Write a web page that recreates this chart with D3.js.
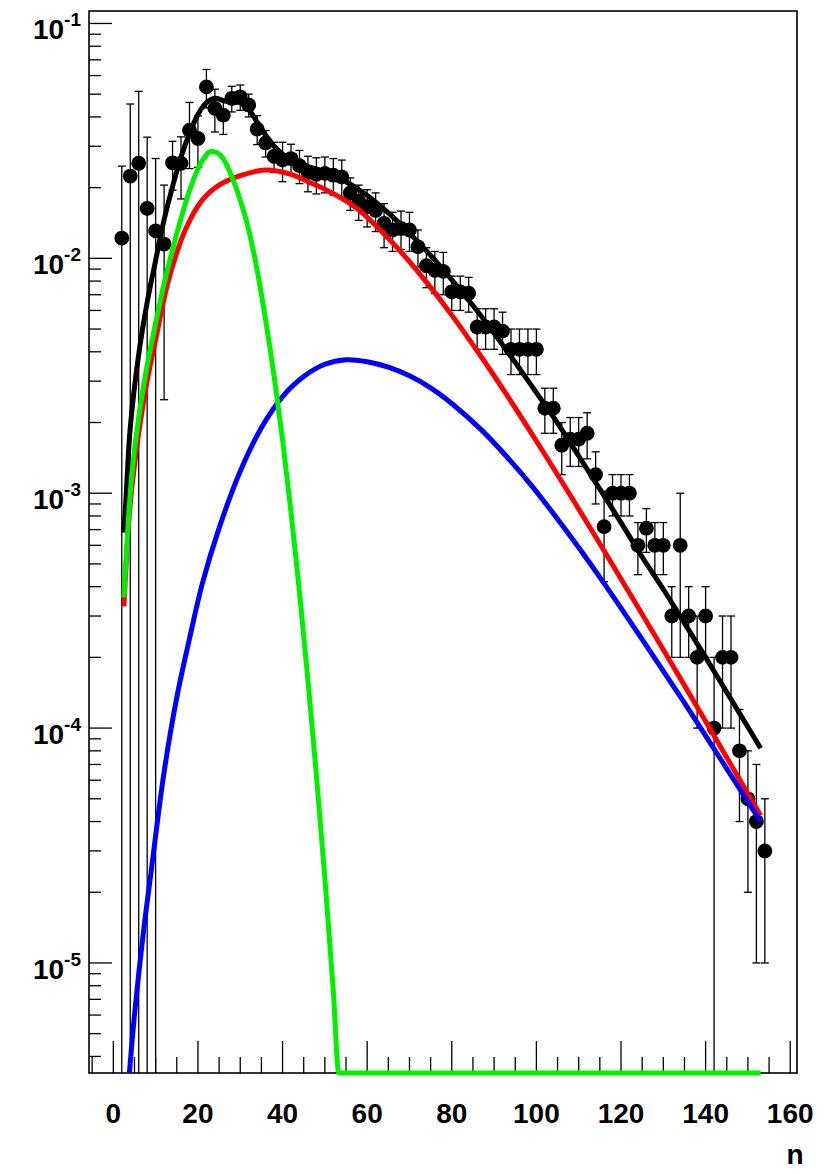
<!DOCTYPE html>
<html>
<head>
<meta charset="utf-8">
<script src="https://cdn.jsdelivr.net/npm/d3@7"></script>
<style>
  body { margin: 0; background: #fff; }
  text { font-family: "Liberation Sans", Arial, sans-serif; font-weight: bold; }
</style>
</head>
<body>
<div id="chart"></div>
<script>
// Data points (even n bins), value and symmetric error
const pointN = d3.range(2, 155, 2);
const pointValue = [
  0.0122, 0.0224, 0.0254, 0.0163, 0.0131, 0.0115, 0.0255, 0.0254, 0.0351, 0.0324,
  0.0537, 0.0435, 0.0407, 0.0480, 0.0487, 0.0450, 0.0355, 0.0310, 0.0272, 0.0262,
  0.0266, 0.0248, 0.0232, 0.0228, 0.0230, 0.0226, 0.0222, 0.0190, 0.0175, 0.0166,
  0.0160, 0.0141, 0.0132, 0.0134, 0.0132, 0.0112, 0.0093, 0.0089, 0.0088, 0.0072,
  0.0072, 0.0071, 0.0051, 0.0051, 0.0051, 0.0049, 0.0041, 0.0041, 0.0041, 0.0041,
  0.0023, 0.0023, 0.0016, 0.0017, 0.0017, 0.0018, 0.0012, 0.00072, 0.0010, 0.0010,
  0.0010, 0.0006, 0.00071, 0.0006, 0.0006, 0.0003, 0.0006, 0.0003, 0.0002, 0.0003,
  0.0001, 0.0002, 0.0002, 0.00008, 0.00005, 0.00004, 0.00003
];
const pointError = [
  0.0125, 0.023, 0.026, 0.0165, 0.0135, 0.009, 0.006, 0.0075, 0.011, 0.008,
  0.010, 0.009, 0.007, 0.006, 0.006, 0.005, 0.005, 0.004, 0.004, 0.005,
  0.004, 0.004, 0.004, 0.004, 0.004, 0.004, 0.004, 0.003, 0.003, 0.003,
  0.003, 0.003, 0.0025, 0.0025, 0.0025, 0.002, 0.0018, 0.0018, 0.0018, 0.0012,
  0.0012, 0.0012, 0.001, 0.001, 0.001, 0.001, 0.0009, 0.0009, 0.0009, 0.0009,
  0.0005, 0.0005, 0.0004, 0.0004, 0.0004, 0.0004, 0.0003, 0.0003, 0.0002, 0.0002,
  0.0002, 0.00015, 0.00015, 0.00015, 0.00015, 0.0001, 0.0004, 0.0001, 0.0001, 0.0001,
  0.0001, 0.0001, 0.0001, 0.00004, 0.00003, 0.00003, 0.00002
];

// Fit curves: total (black), red, blue, green components
const totalN = [2.5, 3, 4, 6, 8, 10, 12, 14, 16, 18, 20, 22, 24, 26, 28, 30, 32, 34, 36, 38, 40, 45, 50, 55, 60, 65, 70, 75, 80, 85, 90, 95, 100, 105, 110, 115, 120, 125, 130, 135, 140, 145, 150, 153];
const totalValue = [6.8e-4, 9.5e-4, 1.9e-3, 3.9e-3, 6.5e-3, 9.8e-3, 0.0146, 0.0202, 0.027, 0.034, 0.041, 0.046, 0.048, 0.047, 0.046, 0.046, 0.043, 0.038, 0.0335, 0.030, 0.0278, 0.025, 0.0233, 0.0212, 0.0185, 0.0156, 0.0128, 0.0103, 0.0081, 0.0063, 0.0048, 0.0036, 0.00268, 0.00199, 0.00144, 0.00104, 7.5e-4, 5.35e-4, 3.9e-4, 2.8e-4, 2.0e-4, 1.42e-4, 1.01e-4, 8.2e-5];

const redN = [2.5, 4, 6, 8, 10, 13, 17, 21, 25, 30, 36, 42, 46, 50, 54, 58, 62, 66, 70, 75, 80, 87, 93, 99, 104, 110, 116, 122, 128, 135, 141, 147, 153];
const redValue = [3.3e-4, 9e-4, 1.8e-3, 3.0e-3, 4.5e-3, 8.0e-3, 0.0132, 0.0177, 0.0205, 0.0225, 0.0238, 0.0228, 0.0212, 0.0197, 0.0180, 0.0161, 0.0138, 0.01165, 0.00968, 0.00752, 0.00573, 0.0038, 0.00262, 0.00178, 0.00128, 8.57e-4, 5.69e-4, 3.76e-4, 2.48e-4, 1.52e-4, 9.95e-5, 6.5e-5, 4.24e-5];

const blueN = [3.8, 5, 7, 9, 12, 15, 18, 21, 25, 30, 35, 40, 45, 50, 55, 60, 65, 70, 75, 80, 87, 93, 99, 104, 110, 116, 122, 128, 135, 141, 147, 153];
const blueValue = [3.4e-6, 6e-6, 1.3e-5, 2.5e-5, 6.5e-5, 1.35e-4, 2.4e-4, 4.1e-4, 7.1e-4, 1.24e-3, 1.9e-3, 2.58e-3, 3.14e-3, 3.54e-3, 3.7e-3, 3.63e-3, 3.44e-3, 3.16e-3, 2.81e-3, 2.41e-3, 1.86e-3, 1.43e-3, 1.07e-3, 8.2e-4, 5.87e-4, 4.13e-4, 2.87e-4, 1.98e-4, 1.28e-4, 8.7e-5, 5.9e-5, 4.0e-5];

const greenN = [2.5, 4, 6, 8, 10, 12, 14, 16, 18, 20, 21.5, 23, 24.5, 26, 28, 30, 32, 34, 36, 38, 40, 42, 44, 46, 48, 50, 52, 53.3, 60, 80, 100, 120, 140, 153];
const greenValue = [3.6e-4, 1.0e-3, 2.1e-3, 3.5e-3, 5.3e-3, 7.8e-3, 0.0109, 0.0148, 0.0194, 0.0240, 0.0268, 0.0285, 0.0282, 0.0265, 0.0223, 0.0177, 0.0132, 0.0089, 0.00546, 0.00315, 0.00169, 8.3e-4, 3.8e-4, 1.6e-4, 6.3e-5, 2.3e-5, 7.6e-6, 3.4e-6, 3.4e-6, 3.4e-6, 3.4e-6, 3.4e-6, 3.4e-6, 3.4e-6];

const curves = [
  { n: totalN, v: totalValue, color: "#000000", curve: d3.curveCatmullRom },
  { n: redN, v: redValue, color: "#ff0000", curve: d3.curveCatmullRom },
  { n: blueN, v: blueValue, color: "#0000ff", curve: d3.curveCatmullRom },
  { n: greenN, v: greenValue, color: "#00f000", curve: d3.curveMonotoneX }
];

// Layout
const width = 836;
const height = 1174;
const frame = { left: 89, right: 797, top: 11, bottom: 1073 };

const x = d3.scaleLinear().domain([-5.75, 161.6]).range([frame.left, frame.right]);
const y = d3.scaleLog().domain([3.4e-6, 0.113]).range([frame.bottom, frame.top]);
const yMin = y.domain()[0];

const svg = d3.select("#chart").append("svg")
  .attr("width", width)
  .attr("height", height);

svg.append("rect").attr("width", width).attr("height", height).attr("fill", "#fff");

// Frame (drawn first, the functions sit on top of it like in ROOT)
svg.append("rect")
  .attr("x", frame.left).attr("y", frame.top)
  .attr("width", frame.right - frame.left)
  .attr("height", frame.bottom - frame.top)
  .attr("fill", "none")
  .attr("stroke", "#000")
  .attr("stroke-width", 1.6);

// X axis ticks (inward, upward)
const xAxis = svg.append("g").attr("stroke", "#000").attr("stroke-width", 1.3);
const xMinor = d3.range(-5, 161, 5);
const xMajor = x.ticks(8);
xMinor.forEach(t => {
  const major = xMajor.includes(t);
  xAxis.append("line")
    .attr("x1", x(t)).attr("x2", x(t))
    .attr("y1", frame.bottom).attr("y2", frame.bottom - (major ? 32 : 16));
});
svg.append("g")
  .selectAll("text")
  .data(xMajor)
  .join("text")
  .attr("x", d => x(d))
  .attr("y", frame.bottom + 50)
  .attr("text-anchor", "middle")
  .attr("font-size", 28)
  .text(d => d);

svg.append("text")
  .attr("x", 795)
  .attr("y", 1164)
  .attr("text-anchor", "middle")
  .attr("font-size", 28)
  .text("n");

// Y axis ticks (inward, to the right)
const yAxis = svg.append("g").attr("stroke", "#000").attr("stroke-width", 1.3);
const yTicks = y.ticks();
const isDecade = v => Math.abs(Math.log10(v) - Math.round(Math.log10(v))) < 1e-6;
yTicks.forEach(t => {
  yAxis.append("line")
    .attr("x1", frame.left).attr("x2", frame.left + (isDecade(t) ? 23 : 12))
    .attr("y1", y(t)).attr("y2", y(t));
});

const yLabels = svg.append("g")
  .selectAll("text")
  .data(yTicks.filter(isDecade))
  .join("text")
  .attr("x", 81)
  .attr("y", d => y(d) + 16)
  .attr("text-anchor", "end")
  .attr("font-size", 28);
yLabels.append("tspan").text("10");
yLabels.append("tspan")
  .attr("dy", -13)
  .attr("font-size", 19)
  .text(d => Math.round(Math.log10(d)));

// clip a little below the frame so lines lying on the floor keep their width
svg.append("clipPath").attr("id", "clip")
  .append("rect")
  .attr("x", frame.left).attr("y", frame.top)
  .attr("width", frame.right - frame.left)
  .attr("height", frame.bottom - frame.top + 3);

const plot = svg.append("g").attr("clip-path", "url(#clip)");

// Error bars
const points = pointN.map((n, i) => ({ n, v: pointValue[i], e: pointError[i] }));
const capW = 4;
const bars = plot.append("g").attr("stroke", "#000").attr("stroke-width", 1.3);
points.forEach(d => {
  const top = y(d.v + d.e);
  const low = d.v - d.e;
  const bottom = low > yMin ? y(low) : frame.bottom;
  const cx = x(d.n);
  bars.append("line").attr("x1", cx).attr("x2", cx).attr("y1", top).attr("y2", bottom);
  bars.append("line").attr("x1", cx - capW).attr("x2", cx + capW).attr("y1", top).attr("y2", top);
  if (low > yMin) {
    bars.append("line").attr("x1", cx - capW).attr("x2", cx + capW).attr("y1", bottom).attr("y2", bottom);
  }
});

// Markers
plot.append("g")
  .selectAll("circle")
  .data(points)
  .join("circle")
  .attr("cx", d => x(d.n))
  .attr("cy", d => y(d.v))
  .attr("r", 7.4)
  .attr("fill", "#000");

// Curves
curves.forEach(c => {
  const line = d3.line()
    .x(d => x(d[0]))
    .y(d => y(Math.max(d[1], yMin)))
    .curve(c.curve);
  plot.append("path")
    .datum(c.n.map((n, i) => [n, c.v[i]]))
    .attr("d", line)
    .attr("fill", "none")
    .attr("stroke", c.color)
    .attr("stroke-width", 5)
    .attr("stroke-linejoin", "round");
});
</script>
</body>
</html>
